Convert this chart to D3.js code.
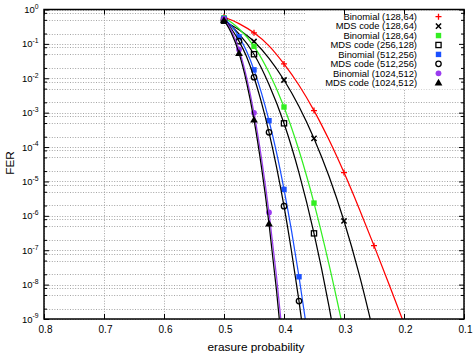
<!DOCTYPE html>
<html><head><meta charset="utf-8">
<script src="https://cdn.jsdelivr.net/npm/d3@7/dist/d3.min.js"></script>
<style>body{margin:0;background:#fff}svg{display:block}text{font-family:"Liberation Sans",Arial,Helvetica,sans-serif}</style>
</head><body><svg id="c" width="473" height="355"></svg>
<script>
// ---- data (erasure probability -> FER) ----
const xTicks = [0.8, 0.7, 0.6, 0.5, 0.4, 0.3, 0.2, 0.1];
const yTicks = [1, 1e-1, 1e-2, 1e-3, 1e-4, 1e-5, 1e-6, 1e-7, 1e-8, 1e-9];
const yTickExp = ["0", "-1", "-2", "-3", "-4", "-5", "-6", "-7", "-8", "-9"];

const pBin128 = [0.5, 0.475, 0.45, 0.425, 0.4, 0.375, 0.35, 0.325, 0.3, 0.275, 0.25, 0.225, 0.2, 0.175];
const ferBin128 = [0.604, 0.389, 0.210, 0.0877, 0.0261, 0.00627, 0.00115, 1.62e-4, 1.81e-5, 1.67e-6, 1.36e-7, 1.03e-8, 7.40e-10, 5.0e-11];

const pMds128 = [0.5, 0.475, 0.45, 0.425, 0.4, 0.375, 0.35, 0.325, 0.3, 0.275, 0.25, 0.225];
const ferMds128 = [0.465, 0.257, 0.1175, 0.0380, 0.00891, 0.00151, 1.78e-4, 1.41e-5, 7.08e-7, 2.09e-8, 3.39e-10, 3.2e-12];

const pBin256 = [0.5, 0.4875, 0.475, 0.45, 0.425, 0.4, 0.375, 0.35, 0.325, 0.3, 0.275];
const ferBin256 = [0.574, 0.418, 0.275, 0.0849, 0.01472, 0.001459, 7.92e-5, 2.35e-6, 3.90e-8, 4.0e-10, 3.0e-12];

const pMds256 = [0.5, 0.4875, 0.475, 0.45, 0.425, 0.4, 0.375, 0.35, 0.325, 0.3125, 0.3];
const ferMds256 = [0.475, 0.322, 0.195, 0.0501, 0.00661, 4.90e-4, 1.78e-5, 3.09e-7, 2.34e-9, 1.45e-10, 7.1e-12];

const pN512 = [0.5, 0.4875, 0.475, 0.4625, 0.45, 0.4375, 0.425, 0.4125, 0.4, 0.3875, 0.375, 0.3625, 0.35];
const ferBin512 = [0.552, 0.334, 0.161, 0.0622, 0.01758, 0.00369, 5.86e-4, 6.97e-5, 5.87e-6, 3.71e-7, 1.69e-8, 5.70e-10, 1.26e-11];
const ferMds512 = [0.482, 0.271, 0.120, 0.0427, 0.0107, 0.00195, 2.69e-4, 2.66e-5, 1.91e-6, 9.33e-8, 3.31e-9, 7.9e-11];

const pN1024 = [0.5, 0.4875, 0.475, 0.4625, 0.45, 0.4375, 0.425, 0.4125, 0.4];
const ferBin1024 = [0.537, 0.240, 0.0692, 0.0110, 9.89e-4, 4.76e-5, 1.26e-6, 1.75e-8, 1.23e-10];
const ferMds1024 = [0.488, 0.203, 0.0537, 0.00776, 6.17e-4, 2.57e-5, 5.89e-7, 6.76e-9, 3.98e-11];

const legendLabels = ["Binomial (128,64)", "MDS code (128,64)", "Binomial (128,64)", "MDS code (256,128)",
  "Binomial (512,256)", "MDS code (512,256)", "Binomial (1024,512)", "MDS code (1024,512)"];

// ---- series table built from the arrays ----
const series = [
  {p: pBin128, v: ferBin128, color: "#ff0000", sym: "plus", step: 0.05},
  {p: pMds128, v: ferMds128, color: "#000000", sym: "cross", step: 0.05},
  {p: pBin256, v: ferBin256, color: "#33ee22", sym: "fsquare", step: 0.05},
  {p: pMds256, v: ferMds256, color: "#000000", sym: "osquare", step: 0.05},
  {p: pN512, v: ferBin512, color: "#1a50ff", sym: "fsquare", step: 0.025},
  {p: pN512, v: ferMds512, color: "#000000", sym: "ocircle", step: 0.025},
  {p: pN1024, v: ferBin1024, color: "#9b3cf0", sym: "fcircle", step: 0.025},
  {p: pN1024, v: ferMds1024, color: "#000000", sym: "triangle", step: 0.025}
];

const L = 44, R = 464, T = 9.5, B = 319;
const x = d3.scaleLinear().domain([0.8, 0.1]).range([L, R]);
const y = d3.scaleLog().domain([1e-9, 1]).range([B, T]);
const svg = d3.select("#c");

svg.append("defs").append("clipPath").attr("id", "clip")
  .append("rect").attr("x", L).attr("y", T).attr("width", R - L).attr("height", B - T);

// grid
const gridVals = [];
for (let e = -9; e <= 0; e++) [1, 2, 5, 8].forEach(m => { const v = m * Math.pow(10, e); if (v <= 1.0000001 && v >= 1e-9) gridVals.push(v); });
const grid = svg.append("g").attr("stroke", "#9a9a9a").attr("stroke-width", 0.9).attr("stroke-dasharray", "1,1.6");
grid.selectAll("line.h").data(gridVals).join("line").attr("class", "h")
  .attr("x1", L).attr("x2", R).attr("y1", d => Math.round(y(d)) + 0.5).attr("y2", d => Math.round(y(d)) + 0.5);
grid.selectAll("line.v").data(xTicks).join("line").attr("class", "v")
  .attr("y1", T).attr("y2", B).attr("x1", d => Math.round(x(d)) + 0.5).attr("x2", d => Math.round(x(d)) + 0.5);

// legend background
svg.append("rect").attr("x", 306).attr("y", T + 1).attr("width", 156).attr("height", 79).attr("fill", "#fff");

// axes ticks
const minorVals = gridVals.filter(v => Math.abs(Math.log10(v) - Math.round(Math.log10(v))) > 1e-6);
function axisStyle(g) { g.select(".domain").remove(); g.selectAll("line").attr("stroke", "#000").attr("stroke-width", 1); }
svg.append("g").attr("transform", `translate(0,${B})`).call(d3.axisBottom(x).tickValues(xTicks).tickSize(-5).tickPadding(7).tickFormat(d3.format(".1f")))
  .call(axisStyle).call(g => g.selectAll("text").style("font-size", "10px").attr("fill", "#000").style("font-family", "Liberation Sans, Arial, sans-serif").attr("dx", 1));
svg.append("g").attr("transform", `translate(0,${T})`).call(d3.axisTop(x).tickValues(xTicks).tickSize(-5).tickFormat("")).call(axisStyle);
svg.append("g").attr("transform", `translate(${L},0)`).call(d3.axisLeft(y).tickValues(yTicks).tickSize(-5).tickFormat("")).call(axisStyle);
svg.append("g").attr("transform", `translate(${L},0)`).call(d3.axisLeft(y).tickValues(minorVals).tickSize(-3).tickFormat("")).call(axisStyle);
svg.append("g").attr("transform", `translate(${R},0)`).call(d3.axisRight(y).tickValues(yTicks).tickSize(-5).tickFormat("")).call(axisStyle);
svg.append("g").attr("transform", `translate(${R},0)`).call(d3.axisRight(y).tickValues(minorVals).tickSize(-3).tickFormat("")).call(axisStyle);

// y tick labels with superscripts
const yl = svg.append("g").attr("fill", "#000");
yTicks.forEach((v, i) => {
  const t = yl.append("text").attr("x", 38.5).attr("y", y(v) + 3.5).attr("text-anchor", "end").style("font-size", "9.5px");
  t.append("tspan").text("10");
  t.append("tspan").style("font-size", "6.8px").attr("dy", -4.2).text(yTickExp[i]);
});

// axis titles
svg.append("text").attr("x", 256).attr("y", 351).attr("text-anchor", "middle").style("font-size", "11.8px").text("erasure probability");
svg.append("text").attr("transform", "translate(13.5,163) rotate(-90)").attr("text-anchor", "middle").style("font-size", "11.8px").text("FER");

// symbols
function drawSym(g, sym, color, cx, cy) {
  if (sym === "plus") g.append("path").attr("d", `M${cx-3},${cy}H${cx+3}M${cx},${cy-3}V${cy+3}`).attr("stroke", color).attr("stroke-width", 1.3).attr("fill", "none");
  else if (sym === "cross") g.append("path").attr("d", `M${cx-2.6},${cy-2.6}L${cx+2.6},${cy+2.6}M${cx-2.6},${cy+2.6}L${cx+2.6},${cy-2.6}`).attr("stroke", color).attr("stroke-width", 1.5).attr("fill", "none");
  else if (sym === "fsquare") g.append("rect").attr("x", cx - 2.7).attr("y", cy - 2.7).attr("width", 5.4).attr("height", 5.4).attr("fill", color);
  else if (sym === "osquare") g.append("rect").attr("x", cx - 2.6).attr("y", cy - 2.6).attr("width", 5.2).attr("height", 5.2).attr("fill", "none").attr("stroke", color).attr("stroke-width", 1.3);
  else if (sym === "ocircle") g.append("circle").attr("cx", cx).attr("cy", cy).attr("r", 2.7).attr("fill", "none").attr("stroke", color).attr("stroke-width", 1.3);
  else if (sym === "fcircle") g.append("circle").attr("cx", cx).attr("cy", cy).attr("r", 2.9).attr("fill", color);
  else if (sym === "triangle") g.append("path").attr("transform", `translate(${cx},${cy + 0.5})`).attr("d", d3.symbol(d3.symbolTriangle, 26)()).attr("fill", color);
}

const plot = svg.append("g").attr("clip-path", "url(#clip)");
const line = d3.line().x(d => x(d[0])).y(d => y(d[1])).curve(d3.curveMonotoneX);
series.forEach(s => {
  const pts = s.p.map((p, i) => [p, s.v[i]]).filter(d => d[1] !== undefined);
  plot.append("path").datum(pts).attr("d", line).attr("fill", "none").attr("stroke", s.color).attr("stroke-width", 1.25);
  const g = plot.append("g");
  pts.forEach(d => {
    const k = (0.5 - d[0]) / s.step;
    if (Math.abs(k - Math.round(k)) < 1e-6 && d[1] >= 1e-9) drawSym(g, s.sym, s.color, x(d[0]), y(d[1]));
  });
});

// border
svg.append("rect").attr("x", L).attr("y", T).attr("width", R - L).attr("height", B - T).attr("fill", "none").attr("stroke", "#000").attr("stroke-width", 1.5);

// legend
const lg = svg.append("g");
legendLabels.forEach((lab, i) => {
  const yy = 16.7 + i * 9.43;
  lg.append("text").attr("x", 417).attr("y", yy + 3.3).attr("text-anchor", "end").style("font-size", "9.4px").attr("fill", "#000").text(lab);
  drawSym(lg, series[i].sym, series[i].color, 438.5, yy);
});
</script></body></html>
